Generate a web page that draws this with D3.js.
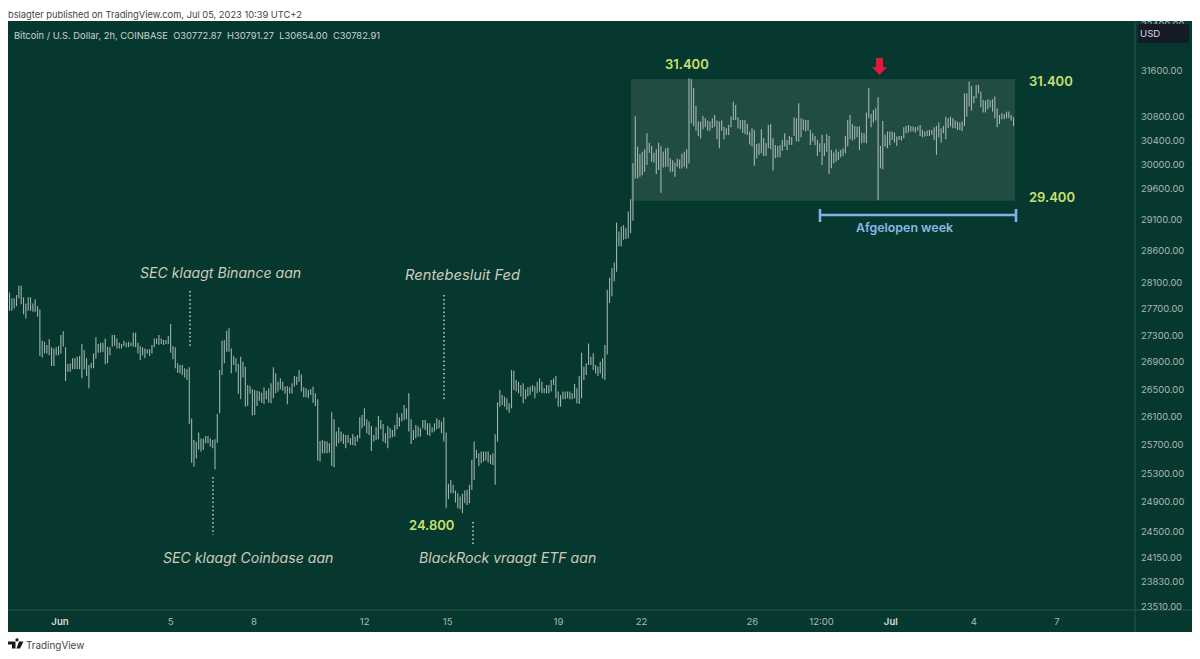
<!DOCTYPE html>
<html>
<head>
<meta charset="utf-8">
<script src="https://d3js.org/d3.v7.min.js"></script>
<style>
  html, body { margin: 0; padding: 0; background: #fff; }
  text { font-family: Inter, "Noto Sans", sans-serif; }
</style>
</head>
<body>
<div id="chart"></div>
<script>
// 2h bars, highs and lows
const barHigh = [
  27950,27860,27860,27910,28055,28055,27875,27782,27875,27875,27782,27845,27740,27690,27216,27200,27150,27236,27116,27100,
  27116,27136,27300,27357,27116,26868,26878,26952,26952,26977,26987,27166,27076,26952,26853,26888,27026,27266,27166,27186,
  27186,27250,27126,27116,27300,27300,27250,27186,27166,27216,27186,27200,27186,27336,27336,27186,27136,27116,27100,27086,
  27086,27150,27250,27250,27300,27250,27226,27226,27286,27466,27136,27116,26878,26853,26853,26804,26790,26820,26074,25765,
  25741,25870,25788,25788,25822,25822,25788,25765,25774,26137,26779,27216,27226,27367,27402,27100,26987,26952,26868,26977,
  26902,26828,26560,26545,26496,26486,26476,26462,26447,26525,26476,26510,26584,26820,26730,26608,26657,26608,26535,26545,
  26525,26584,26690,26680,26779,
  26714,26525,26510,26486,26496,26535,26437,26350,25751,25765,25751,25742,25718,26162,26061,25885,25947,25885,25851,25837,
  25837,25789,25851,25813,25837,26090,26123,26219,26061,26028,25966,25837,25947,26109,26052,25995,25861,25966,25932,25908,
  25980,26147,26090,26147,26267,26219,26437,26061,25908,25980,25956,25932,26052,26052,26004,26004,25947,26004,26076,26052,
  26028,26090,25870,25150,25204,25135,25057,25020,24974,25011,25057,25066,25135,25484,25742,25624,25577,25601,25601,25601,
  25601,25554,25577,25846,26305,26486,26413,26389,26364,26292,26779,26769,26632,26607,26559,26583,26496,26525,26535,26559,
  26535,26607,26656,26607,26510,26559,26559,26632,26656,26690,26462,26413,26462,26462,26462,26462,26437,26573,26510,26690,
  27037,26828,26878,27175,26977,27027,26853,26828,26903,26952,27150,27992,
  28176,28330,28415,29049,28905,28985,29011,28958,29226,29424,30014,
  30805,30291,30167,30206,30246,30515,30356,30302,30189,30246,30356,30302,30206,30262,30274,30094,30066,30024,30094,30078,
  30178,30206,30246,31455,31445,31284,30978,30713,30713,30809,30769,30730,30713,30769,30826,30730,30713,30730,30628,30599,
  30656,30798,31053,30995,30786,30741,30741,30741,30673,30543,
  30601,30573,30337,30348,30584,30432,30348,30657,30674,30432,30320,30303,30320,30404,30517,30404,30472,30449,30786,30769,
  31026,30769,30752,30741,30741,30573,30517,30472,30404,30348,30489,30348,30505,30472,30236,30192,30247,30208,30236,30264,
  30472,30741,30826,30674,30640,30629,30629,30528,30517,30866,31283,30843,30911,30940,31129,
  30303,30724,30489,30545,30545,30545,30528,30460,30472,30472,30618,30640,30657,30640,30629,30618,30629,30657,30573,30545,
  30561,30573,30573,30618,30640,30696,30601,30640,30797,30769,30797,30769,30730,30713,30696,30713,31197,31197,31398,31323,
  31151,31340,31340,31226,31083,31072,31094,31083,31094,31140,30940,30826,30854,30843,30883,30883,30826,30786
];
const barLow = [
  27670,27670,27705,27740,27860,27767,27615,27552,27670,27670,27655,27655,27578,26990,26966,27026,27026,27000,26839,26839,
  27000,27000,27026,27126,26618,26755,26755,26790,26795,26790,26790,26657,26790,26690,26510,26804,26804,26947,27036,27040,
  27050,26863,26878,27000,27126,27140,27100,27100,27100,27136,27116,27116,27136,27126,27116,27026,26928,27000,26952,27026,
  26987,27026,27116,27166,27150,27166,27150,27166,27166,27036,26938,26804,26740,26730,26706,26670,26632,25993,25444,25388,
  25505,25632,25600,25624,25718,25718,25670,25647,25350,25727,26147,26706,26878,27050,27050,26730,26853,26755,26430,26350,
  26670,26243,26253,26430,26117,26122,26253,26330,26300,26282,26350,26300,26291,26365,26437,26462,26496,26476,26430,26277,
  26437,26430,26535,26560,26608,
  26462,26379,26379,26364,26413,26301,26253,25474,25460,25577,25577,25577,25587,25399,25380,25671,25718,25742,25709,25648,
  25727,25695,25695,25681,25742,25789,25932,25966,25861,25837,25610,25742,25765,25775,25918,25742,25718,25648,25789,25803,
  25813,25918,25956,26028,26052,26061,25885,25709,25765,25789,25813,25813,25932,25908,25837,25823,25870,25885,25918,25932,
  25861,25742,24814,24937,25020,25020,24891,24814,24800,24746,24882,24859,24882,25066,25204,25507,25399,25436,25460,25474,
  25446,25427,25413,25135,25742,26243,26267,26243,26195,26157,26219,26486,26462,26437,26389,26292,26350,26389,26413,26462,
  26364,26437,26462,26437,26437,26437,26437,26462,26559,26364,26243,26243,26350,26350,26364,26350,26350,26364,26292,26282,
  26364,26632,26705,26853,26853,26779,26729,26690,26729,26656,26632,27010,
  27788,27890,28125,28270,28670,28670,28774,28785,28800,28880,29078,
  29763,29763,29791,29819,29874,29985,30189,30041,30024,29835,29902,29531,29946,29957,29957,29874,29874,29791,29957,29930,
  29930,29957,29930,30013,30684,30639,30560,30469,30430,30582,30616,30560,30560,30599,30628,30414,30263,30560,30414,30486,
  30486,30616,30741,30741,30599,30582,30526,30503,30486,30329,
  30292,29972,30098,30153,30181,30137,30137,30264,30247,29894,30098,30115,30115,30225,30292,30236,30320,30320,30472,30376,
  30376,30449,30573,30545,30561,30320,30376,30320,30137,30208,29988,30137,30208,29839,29933,30016,30043,30071,30115,30137,
  30181,30292,30415,30393,30415,30449,30236,30348,30359,30348,30769,30618,30696,30730,29409,
  29933,29916,30292,30264,30320,30404,30359,30303,30404,30393,30432,30517,30528,30545,30545,30528,30561,30472,30449,30460,
  30472,30472,30489,30404,30153,30449,30359,30517,30415,30601,30629,30601,30601,30573,30573,30556,30640,30797,30969,30900,
  31026,31112,31197,30957,30866,30866,30923,30957,30883,30769,30618,30674,30752,30752,30769,30769,30730,30640
];

// Axis labels
const priceTicks = [32400,31600,30800,30400,30000,29600,29100,28600,28100,27700,27300,26900,26500,26100,25700,25300,24900,24500,24150,23830,23510];
const dayTicks = [1,5,8,12,15,19,22,26,28.5,31,34,37];
const dayLabels = ["Jun","5","8","12","15","19","22","26","12:00","Jul","4","7"];

const width = 1200, height = 659;
const panel = {left: 8, right: 1192, top: 21, bottom: 632};
const axisX = 1135, axisY = 610;
const bg = "#06382f", grid = "#2b5449";

const svg = d3.select("#chart").append("svg")
  .attr("width", width)
  .attr("height", height);

// Log price scale and a time scale in days since the end of May
const y = d3.scaleLog().domain([31600, 23510]).range([70, 606]);
const x = d3.scaleLinear().domain([1, 37]).range([60, 1057]);
const barDay = d3.scaleLinear().domain([0, barHigh.length - 1]).range([-0.823, 35.43]);

svg.append("rect")
  .attr("x", panel.left)
  .attr("y", panel.top)
  .attr("width", panel.right - panel.left)
  .attr("height", panel.bottom - panel.top)
  .attr("fill", bg);

svg.append("defs").append("clipPath")
  .attr("id", "panelClip")
  .append("rect")
  .attr("x", panel.left)
  .attr("y", panel.top)
  .attr("width", panel.right - panel.left)
  .attr("height", panel.bottom - panel.top);

// Range box behind the bars
svg.append("rect")
  .attr("x", 631)
  .attr("y", y(31443))
  .attr("width", 384)
  .attr("height", y(29400) - y(31443))
  .attr("fill", "#214c42");

// Bars
svg.append("g")
  .selectAll("line")
  .data(barHigh)
  .enter()
  .append("line")
  .attr("x1", (d, i) => x(barDay(i)))
  .attr("x2", (d, i) => x(barDay(i)))
  .attr("y1", d => y(d))
  .attr("y2", (d, i) => y(barLow[i]))
  .attr("stroke", "#c4d2cc")
  .attr("stroke-opacity", 0.8)
  .attr("stroke-width", 1.1);

// Axis dividers
svg.append("line").attr("x1", axisX).attr("x2", axisX).attr("y1", panel.top).attr("y2", panel.bottom).attr("stroke", grid);
svg.append("line").attr("x1", panel.left).attr("x2", panel.right).attr("y1", axisY).attr("y2", axisY).attr("stroke", grid);

// Price axis
svg.append("g")
  .attr("clip-path", "url(#panelClip)")
  .selectAll("text")
  .data(priceTicks)
  .enter()
  .append("text")
  .attr("x", 1141)
  .attr("y", d => y(d) + 3.5)
  .attr("fill", "#a9b9b4")
  .style("font-size", "9.4px")
  .text(d => d.toFixed(2));

svg.append("rect")
  .attr("x", 1138)
  .attr("y", 24)
  .attr("width", 51)
  .attr("height", 19)
  .attr("rx", 2)
  .attr("fill", "#151a26");
svg.append("text")
  .attr("x", 1140)
  .attr("y", 36.5)
  .attr("fill", "#d8dbe0")
  .style("font-size", "9.6px")
  .text("USD");

// Time axis
svg.append("g")
  .selectAll("text")
  .data(dayTicks)
  .enter()
  .append("text")
  .attr("x", d => x(d))
  .attr("y", 625)
  .attr("text-anchor", "middle")
  .attr("fill", (d, i) => dayLabels[i] === "Jun" || dayLabels[i] === "Jul" ? "#d6dedb" : "#a9b9b4")
  .style("font-size", "9.6px")
  .style("font-weight", (d, i) => dayLabels[i] === "Jun" || dayLabels[i] === "Jul" ? 600 : 400)
  .text((d, i) => dayLabels[i]);

// Header, legend and footer
svg.append("text").attr("x", 8).attr("y", 18).attr("fill", "#444").style("font-size", "9.3px")
  .text("bslagter published on TradingView.com, Jul 05, 2023 10:39 UTC+2");
svg.append("text").attr("x", 14).attr("y", 38.5).attr("fill", "#c9d4d0").style("font-size", "9.36px")
  .attr("xml:space", "preserve")
  .text("Bitcoin / U.S. Dollar, 2h, COINBASE  O30772.87  H30791.27  L30654.00  C30782.91");
svg.append("path")
  .attr("d", "M8 641.5h7.5v7h-3.5v-4h-4z M17 641.5a1.6 1.6 0 1 1 0.01 0z M19 641.5h4.5l-3.5 7h-3.5z")
  .attr("fill", "#131722");
svg.append("text").attr("x", 26).attr("y", 649).attr("fill", "#444").style("font-size", "9.9px").text("TradingView");

// Annotations
const italicNotes = [
  {text: "SEC klaagt Binance aan", tx: 140, ty: 278, size: 14.1},
  {text: "Rentebesluit Fed", tx: 405, ty: 280, size: 14.7},
  {text: "SEC klaagt Coinbase aan", tx: 163, ty: 563, size: 14.1},
  {text: "BlackRock vraagt ETF aan", tx: 419, ty: 563, size: 14.1}
];
svg.selectAll(".note")
  .data(italicNotes)
  .enter()
  .append("text")
  .attr("class", "note")
  .attr("x", d => d.tx)
  .attr("y", d => d.ty)
  .attr("fill", "#cfcabd")
  .style("font-size", d => d.size + "px")
  .style("font-style", "italic")
  .text(d => d.text);

const dottedLines = [[190, 291, 348], [213, 477, 535], [444, 295, 400], [473, 522, 546]];
svg.selectAll(".dotted")
  .data(dottedLines)
  .enter()
  .append("line")
  .attr("class", "dotted")
  .attr("x1", d => d[0])
  .attr("x2", d => d[0])
  .attr("y1", d => d[1])
  .attr("y2", d => d[2])
  .attr("stroke", "#c6d0cb")
  .attr("stroke-width", 1.5)
  .attr("stroke-dasharray", "1.5 2.6");

const levelLabels = [
  {text: "31.400", tx: 665, ty: 69},
  {text: "31.400", tx: 1029, ty: 86},
  {text: "29.400", tx: 1029, ty: 202},
  {text: "24.800", tx: 409, ty: 530}
];
svg.selectAll(".level")
  .data(levelLabels)
  .enter()
  .append("text")
  .attr("class", "level")
  .attr("x", d => d.tx)
  .attr("y", d => d.ty)
  .attr("fill", "#c9e06f")
  .style("font-size", "13px")
  .style("font-weight", 600)
  .text(d => d.text);

// Red arrow
svg.append("path")
  .attr("d", "M876 58h7v9h4l-7.5 8l-7.5-8h4z")
  .attr("fill", "#e4173f");

// Last week bracket
const bracket = svg.append("g").attr("stroke", "#7db3e6").attr("stroke-width", 2.6);
bracket.append("line").attr("x1", 820).attr("x2", 1016).attr("y1", 215).attr("y2", 215);
bracket.append("line").attr("x1", 820).attr("x2", 820).attr("y1", 209).attr("y2", 222);
bracket.append("line").attr("x1", 1016).attr("x2", 1016).attr("y1", 209).attr("y2", 222);
svg.append("text")
  .attr("x", 856)
  .attr("y", 232)
  .attr("fill", "#8ab8e6")
  .style("font-size", "12.4px")
  .style("font-weight", 600)
  .text("Afgelopen week");
</script>
</body>
</html>
